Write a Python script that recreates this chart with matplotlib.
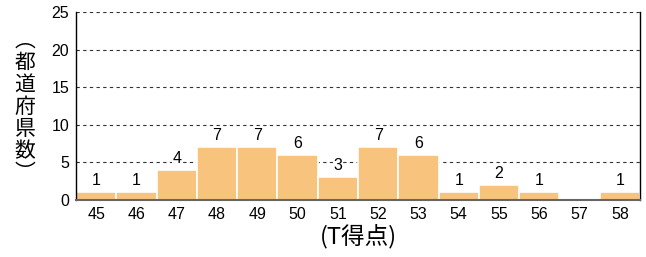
import matplotlib
matplotlib.use("Agg")
import matplotlib.pyplot as plt

plt.rcParams['font.family'] = ['Liberation Sans', 'Noto Sans CJK JP', 'DejaVu Sans']

categories = ['45', '46', '47', '48', '49', '50', '51', '52', '53', '54', '55', '56', '57', '58']
values = [1, 1, 4, 7, 7, 6, 3, 7, 6, 1, 2, 1, 0, 1]
yticks = [0, 5, 10, 15, 20, 25]

fig = plt.figure(figsize=(6.46, 2.57), dpi=100)
ax = fig.add_axes([76/646, 1-200/257, 564/646, 188/257])

x = list(range(len(categories)))
ax.bar(x, values, width=1.0, color='#F8C37C', edgecolor='white', linewidth=1.2, zorder=2)
ax.set_xlim(-0.5, len(categories)-0.5)
ax.set_ylim(0, 25)
ax.set_yticks(yticks)
ax.set_xticks(x)
ax.set_xticklabels(categories)
ax.tick_params(length=0, labelsize=11.5, pad=5)
ax.yaxis.grid(True, linestyle=(0, (3, 3)), color='#333333', linewidth=0.8, zorder=1)
ax.set_axisbelow(True)
for s in ['left', 'right']:
    ax.spines[s].set_color('black')
    ax.spines[s].set_linewidth(1.0)
ax.spines['top'].set_visible(False)
ax.spines['bottom'].set_color('#666666')
ax.spines['bottom'].set_linewidth(1.5)

for xi, v in zip(x, values):
    if v > 0:
        ax.text(xi, v + 0.55, str(v), ha='center', va='bottom', fontsize=11.5,
                bbox=dict(facecolor='white', edgecolor='none', pad=0.5), zorder=3)

fig.text(25/646, 1-107/257, '︵\n都\n道\n府\n県\n数\n︶', ha='center', va='center',
         fontsize=15, linespacing=1.0, family=['Noto Sans CJK JP', 'DejaVu Sans'])
fig.text(358/646, 1-236/257, '(T得点)', ha='center', va='center', fontsize=17,
         family=['Noto Sans CJK JP', 'DejaVu Sans'])

fig.savefig('out.png', dpi=100)
